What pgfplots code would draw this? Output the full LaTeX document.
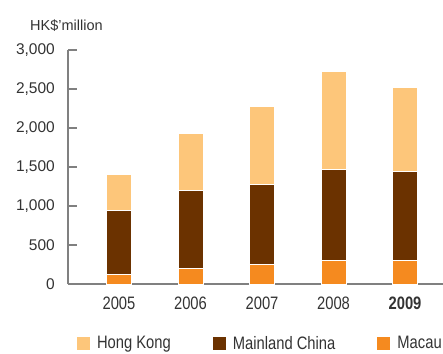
\documentclass[border=0pt]{standalone}
\usepackage{pgfplots}
\pgfplotsset{compat=1.18}
\usepackage{fontspec}
\setmainfont{Liberation Sans}
\newfontfamily\cond{Liberation Sans}[FakeStretch=0.82]
\definecolor{hk}{HTML}{FDC67A}
\definecolor{mc}{HTML}{6B3200}
\definecolor{mo}{HTML}{F58A1F}
\definecolor{textgray}{HTML}{333333}
\definecolor{axisgray}{HTML}{808080}
\begin{document}
\begin{tikzpicture}
\begin{axis}[
  at={(0pt,0pt)}, anchor=south west,
  scale only axis, width=375pt, height=234pt,
  xmin=-0.713, xmax=4.531, ymin=0, ymax=3000,
  ybar stacked, bar width=25pt,
  axis x line=bottom, axis y line=left,
  axis line style={-, draw=axisgray, line width=1.2pt},
  xtick={0,1,2,3,4},
  xticklabels={2005,2006,2007,2008,\textbf{2009}},
  x tick style={draw=none},
  ytick={0,500,1000,1500,2000,2500,3000},
  tick align=inside, major tick length=9pt,
  y tick style={draw=axisgray, line width=1.2pt},
  /pgf/number format/assume math mode=true,
  /pgf/number format/1000 sep={,},
  yticklabel style={anchor=east, inner sep=0pt, xshift=-13pt, font=\fontsize{15.5}{17}\selectfont, text=textgray},
  xticklabel style={anchor=base, inner sep=0pt, yshift=-25pt, font=\cond\fontsize{18}{20}\selectfont, text=textgray},
  every axis y label/.style={at={(axis description cs:0,1)}, anchor=base west, xshift=-38pt, yshift=19.3pt, inner sep=0pt, font=\fontsize{14.5}{16}\selectfont, text=textgray},
  ylabel={HK\$’million},
  legend columns=3, reverse legend,
  legend style={draw=none, fill=none, at={(axis description cs:0,0)}, anchor=west, xshift=9pt, yshift=-59.5pt, inner sep=0pt, outer sep=0pt, font=\cond\fontsize{18}{20}\selectfont, text=textgray, column sep=7pt, /tikz/every even column/.append style={column sep=42pt}, nodes={inner sep=0pt}},
  legend cell align=left,
  legend image code/.code={\fill[#1, draw=none] (0pt,-6.5pt) rectangle (13pt,6.5pt);},
]
\addplot[fill=mo, draw=white, line width=1pt] coordinates {(0,125) (1,195) (2,245) (3,300) (4,300)};
\addplot[fill=mc, draw=white, line width=1pt] coordinates {(0,815) (1,1000) (2,1035) (3,1170) (4,1140)};
\addplot[fill=hk, draw=white, line width=1pt] coordinates {(0,460) (1,730) (2,990) (3,1255) (4,1077)};
\legend{Macau, Mainland China, Hong Kong}
\end{axis}
\pgfresetboundingbox
\useasboundingbox (-68pt,-69pt) rectangle (375pt,284pt);
\end{tikzpicture}
\end{document}
